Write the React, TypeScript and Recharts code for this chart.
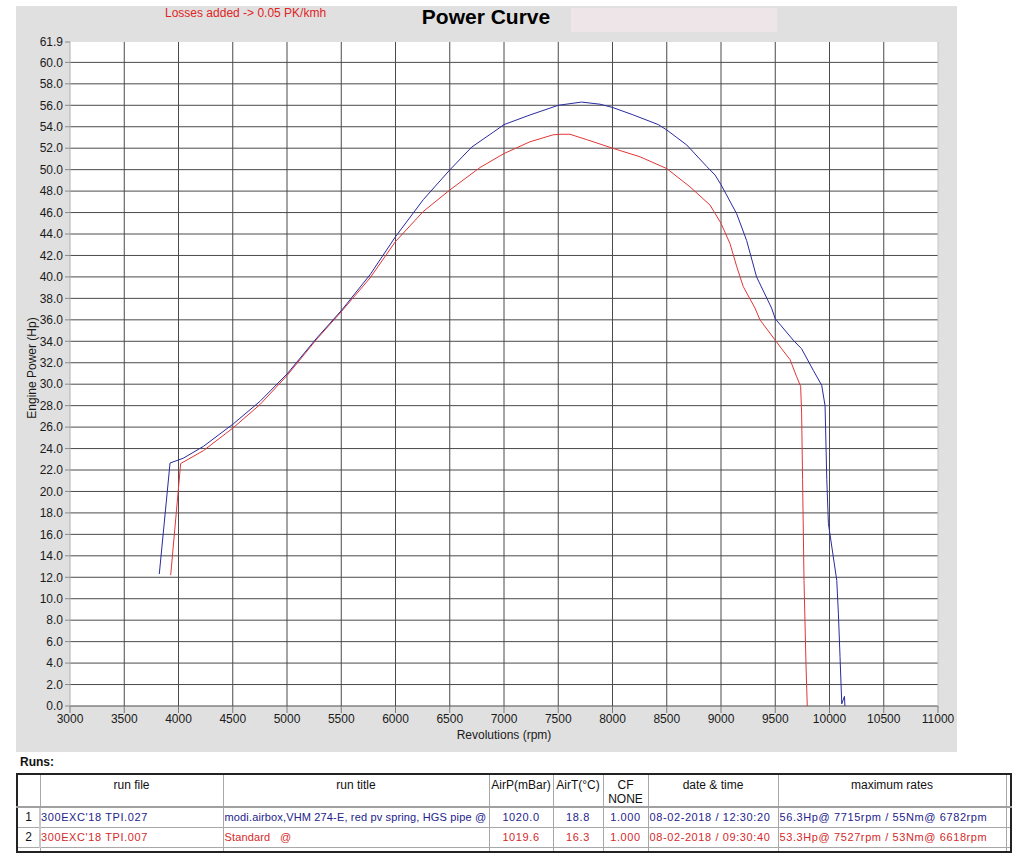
import React from 'react';
import { LineChart, Line, XAxis, YAxis, CartesianGrid, ReferenceLine } from 'recharts';

const blueRpm = [3823, 3922, 4044, 4229, 4505, 4751, 5000, 5274, 5504, 5765, 6000, 6256, 6500, 6702, 6902, 7000, 7240, 7500, 7715, 7885, 8000, 8192, 8422, 8500, 8684, 8868, 8945, 9000, 9144, 9236, 9328, 9466, 9500, 9666, 9743, 9850, 9928, 9959, 9975, 9990, 10067, 10082, 10097, 10113, 10138, 10142];
const blueHp = [12.3, 22.65, 23.1, 24.2, 26.3, 28.4, 30.95, 34.3, 36.9, 40.2, 43.75, 47.2, 49.97, 52.1, 53.5, 54.2, 55.1, 56.0, 56.3, 56.1, 55.8, 55.1, 54.2, 53.7, 52.3, 50.3, 49.5, 48.6, 45.9, 43.4, 40.0, 37.1, 36.1, 34.1, 33.3, 31.3, 29.9, 28.0, 21.1, 17.0, 11.7, 8.6, 4.6, 0.2, 0.9, 0.0];

const redRpm = [3928, 4020, 4229, 4500, 4751, 5000, 5274, 5504, 5765, 6000, 6256, 6500, 6779, 7000, 7240, 7454, 7527, 7608, 7762, 8000, 8253, 8500, 8714, 8899, 9000, 9083, 9144, 9205, 9313, 9359, 9500, 9559, 9636, 9697, 9734, 9743, 9752, 9765, 9783, 9795];
const redHp = [12.2, 22.6, 23.8, 25.9, 28.1, 30.8, 34.2, 36.8, 39.9, 43.3, 46.1, 48.1, 50.2, 51.5, 52.6, 53.25, 53.3, 53.3, 52.8, 52.0, 51.2, 50.1, 48.4, 46.7, 45.0, 43.1, 41.0, 39.1, 37.1, 36.0, 34.1, 33.3, 32.3, 30.7, 29.8, 27.3, 21.1, 11.7, 4.0, 0.0];

const xTicks = [3000, 3500, 4000, 4500, 5000, 5500, 6000, 6500, 7000, 7500, 8000, 8500, 9000, 9500, 10000, 10500, 11000];
const yTicks = [0, 2, 4, 6, 8, 10, 12, 14, 16, 18, 20, 22, 24, 26, 28, 30, 32, 34, 36, 38, 40, 42, 44, 46, 48, 50, 52, 54, 56, 58, 60, 61.9];
const gridY = [0, 2, 4, 6, 8, 10, 12, 14, 16, 18, 20, 22, 24, 26, 28, 30, 32, 34, 36, 38, 40, 42, 44, 46, 48, 50, 52, 54, 56, 58, 60];
const gridX = [3500, 4000, 4500, 5000, 5500, 6000, 6500, 7000, 7500, 8000, 8500, 9000, 9500, 10000, 10500];

const runNo = ['1', '2'];
const runFile = ["300EXC'18 TPI.027", "300EXC'18 TPI.007"];
const runTitle = ['modi.airbox,VHM 274-E, red pv spring, HGS pipe @', 'Standard   @'];
const airP = ['1020.0', '1019.6'];
const airT = ['18.8', '16.3'];
const cf = ['1.000', '1.000'];
const dateTime = ['08-02-2018 / 12:30:20', '08-02-2018 / 09:30:40'];
const maxRates = ['56.3Hp@ 7715rpm / 55Nm@ 6782rpm', '53.3Hp@ 7527rpm / 53Nm@ 6618rpm'];
const runColors = ['#23238c', '#d42a2a'];

const BLUE = '#2a2aa0';
const RED = '#e23636';

type Row = { rpm: number; blue?: number; red?: number };
const data: Row[] = [
  ...blueRpm.map((r, i) => ({ rpm: r, blue: blueHp[i] })),
  ...redRpm.map((r, i) => ({ rpm: r, red: redHp[i] })),
].sort((a, b) => a.rpm - b.rpm);

const font = '"Liberation Sans", Arial, sans-serif';

const cellBase: React.CSSProperties = {
  borderRight: '1px solid #a8a8a8',
  borderBottom: '1px solid #a8a8a8',
  padding: 0,
  whiteSpace: 'pre',
  overflow: 'hidden',
};

export default function App() {
  const colW = [23, 183, 266, 64, 50, 45, 130, 228, 5];
  const headers = ['', 'run file', 'run title', 'AirP(mBar)', 'AirT(°C)', 'CF\nNONE', 'date & time', 'maximum rates', ''];
  return (
    <div style={{ position: 'absolute', left: 0, top: 0, width: 1024, height: 863, background: '#fff', fontFamily: font }}>
      <div style={{ position: 'absolute', left: 16, top: 6, width: 941, height: 746, background: '#e0e0e0' }} />
      <div style={{ position: 'absolute', left: 571, top: 8, width: 206, height: 24, background: '#ede5e7' }} />
      <div style={{ position: 'absolute', left: 165, top: 6, fontSize: 12, color: '#e02424', whiteSpace: 'nowrap' }}>
        Losses added -&gt; 0.05 PK/kmh
      </div>
      <div style={{ position: 'absolute', left: 386, top: 5, width: 200, textAlign: 'center', fontSize: 21, fontWeight: 'bold', color: '#000' }}>
        Power Curve
      </div>
      <div style={{ position: 'absolute', left: 16, top: 6 }}>
        <LineChart width={941} height={746} data={data} margin={{ top: 36, right: 19, bottom: 0, left: 0 }}>
          <CartesianGrid
            fill="#ffffff"
            stroke="#4a4a4a"
            strokeWidth={1}
            horizontalValues={gridY}
            verticalValues={gridX}
          />
          <ReferenceLine x={11000} stroke="#c4c4c4" strokeWidth={1} ifOverflow="extendDomain" />
          <XAxis
            dataKey="rpm"
            type="number"
            domain={[3000, 11000]}
            ticks={xTicks}
            interval={0}
            height={46}
            tickSize={7}
            tickMargin={1}
            axisLine={false}
            tickLine={{ stroke: '#7a7a7a' }}
            tick={{ fontSize: 12, fill: '#1a1a1a', fontFamily: font }}
            allowDataOverflow
          />
          <YAxis
            type="number"
            domain={[0, 61.9]}
            ticks={yTicks}
            interval={0}
            width={54}
            tickSize={5}
            tickMargin={2}
            axisLine={{ stroke: '#b0b0b0' }}
            tickLine={{ stroke: '#8a8a8a' }}
            tick={{ fontSize: 12, fill: '#1a1a1a', fontFamily: font }}
            tickFormatter={(v: number) => v.toFixed(1)}
            allowDataOverflow
          />
          <Line dataKey="red" type="linear" stroke={RED} strokeWidth={1} dot={false} connectNulls isAnimationActive={false} />
          <Line dataKey="blue" type="linear" stroke={BLUE} strokeWidth={1} dot={false} connectNulls isAnimationActive={false} />
        </LineChart>
      </div>
      <div style={{ position: 'absolute', left: 404, top: 728, width: 200, textAlign: 'center', fontSize: 12, color: '#1a1a1a' }}>
        Revolutions (rpm)
      </div>
      <div style={{ position: 'absolute', left: 32, top: 369, width: 0, height: 0 }}>
        <div style={{ position: 'absolute', left: -100, top: -8, width: 200, textAlign: 'center', fontSize: 12, color: '#1a1a1a', transform: 'rotate(-90deg)', whiteSpace: 'nowrap' }}>
          Engine Power (Hp)
        </div>
      </div>
      <div style={{ position: 'absolute', left: 20, top: 755, fontSize: 12, fontWeight: 'bold', color: '#111' }}>Runs:</div>
      <table style={{ position: 'absolute', left: 16, top: 773, borderCollapse: 'collapse', border: '2px solid #222', tableLayout: 'fixed', width: 996, fontFamily: font }}>
        <colgroup>
          {colW.map((w, i) => <col key={i} style={{ width: w }} />)}
        </colgroup>
        <tbody>
          <tr style={{ height: 31 }}>
            {headers.map((h, i) => (
              <td key={i} style={{ ...cellBase, borderBottom: '2px solid #a0a0a0', verticalAlign: 'top', textAlign: 'center', fontSize: 12, color: '#111', paddingTop: 3, lineHeight: '14px' }}>{h}</td>
            ))}
          </tr>
          {runNo.map((n, r) => (
            <tr key={r} style={{ height: 20, fontSize: 11, letterSpacing: '0.6px', color: runColors[r] }}>
              <td style={{ ...cellBase, textAlign: 'center', color: '#111', fontSize: 12, letterSpacing: 0 }}>{n}</td>
              <td style={{ ...cellBase, borderLeft: '2px solid #c8c8c8' }}>{runFile[r]}</td>
              <td style={{ ...cellBase, paddingLeft: 1, letterSpacing: '0.15px' }}>{runTitle[r]}</td>
              <td style={{ ...cellBase, textAlign: 'center' }}>{airP[r]}</td>
              <td style={{ ...cellBase, textAlign: 'center' }}>{airT[r]}</td>
              <td style={{ ...cellBase, textAlign: 'center' }}>{cf[r]}</td>
              <td style={{ ...cellBase, paddingLeft: 1 }}>{dateTime[r]}</td>
              <td style={{ ...cellBase, paddingLeft: 1 }}>{maxRates[r]}</td>
              <td style={{ ...cellBase }}></td>
            </tr>
          ))}
          <tr style={{ height: 3 }}>
            {colW.map((_, i) => <td key={i} style={{ ...cellBase, borderBottom: 'none', height: 3 }} />)}
          </tr>
        </tbody>
      </table>
    </div>
  );
}
